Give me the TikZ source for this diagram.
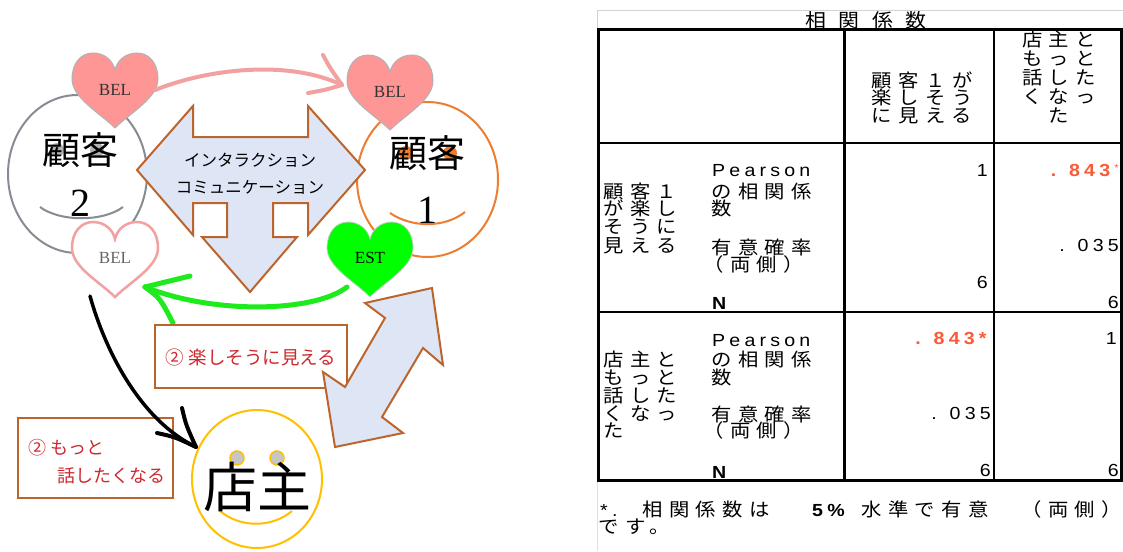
\documentclass[tikz,border=0pt]{standalone}
\usepackage{fontspec}
\setmainfont{Liberation Serif}
\newfontfamily\jp{Noto Sans CJK JP}
\newfontfamily\tabjp[FakeStretch=1.1,LetterSpace=35]{Noto Sans CJK JP}
\newfontfamily\tabtitle[FakeStretch=1.1,LetterSpace=65]{Noto Sans CJK JP}
\newfontfamily\tablat[FakeStretch=1.12,LetterSpace=24]{Liberation Sans}
\usetikzlibrary{shapes.geometric}

\definecolor{brownline}{RGB}{188,100,46}
\definecolor{arrowfill}{RGB}{222,230,245}
\definecolor{heartpink}{RGB}{255,150,150}
\definecolor{pinkline}{RGB}{242,160,160}
\definecolor{facegray}{RGB}{135,140,148}
\definecolor{faceorange}{RGB}{237,125,49}
\definecolor{facegold}{RGB}{255,192,0}
\definecolor{boxred}{RGB}{205,40,45}
\definecolor{brightgreen}{RGB}{0,255,0}
\definecolor{arrowgreen}{RGB}{30,235,30}
\definecolor{tabred}{RGB}{250,90,55}

\tikzset{
  heart/.pic={
    \path[pic actions] (0,75) .. controls (-15,60) and (-43,45) .. (-43,26)
      .. controls (-43,10) and (-34,0) .. (-22,0)
      .. controls (-10,0) and (-2,8) .. (0,17)
      .. controls (2,8) and (10,0) .. (22,0)
      .. controls (34,0) and (43,10) .. (43,26)
      .. controls (43,45) and (15,60) .. (0,75) -- cycle;
  },
  face/.style={ellipse, line width=2, inner sep=0},
  eye/.style={circle, inner sep=0, minimum size=14},
  bigjp/.style={font=\jp\fontsize{38}{38}\selectfont, inner sep=0},
  bignum/.style={font=\fontsize{40}{40}\selectfont, inner sep=0},
  hearttext/.style={font=\fontsize{17}{17}\selectfont, inner sep=0},
  bigarrow/.style={draw=brownline, fill=arrowfill, line width=2, line join=miter},
  notebox/.style={draw=brownline, fill=white, line width=2.5, inner sep=0},
  notetext/.style={font=\jp\fontsize{18}{18}\selectfont, text=boxred, inner sep=0},
  handarrow/.style={line cap=round, line join=round},
  tj/.style={font=\tabjp\fontsize{18.5}{18.5}\selectfont, inner sep=0, anchor=base west},
  tjc/.style={font=\tabjp\fontsize{18.5}{18.5}\selectfont, inner sep=0, anchor=base},
  tl/.style={font=\tablat\fontsize{17.5}{17.5}\selectfont, inner sep=0, anchor=base west},
  tlb/.style={font=\tablat\bfseries\fontsize{17.5}{17.5}\selectfont, inner sep=0, anchor=base west},
  tn/.style={font=\tablat\fontsize{17.5}{17.5}\selectfont, inner sep=0, anchor=base east},
  tabrule/.style={line width=1.5},
  tabframe/.style={line width=3},
}

\begin{document}
\begin{tikzpicture}[x=1pt, y=-1pt]
\useasboundingbox (0,0) rectangle (1123,551);
\fill[white] (0,0) rectangle (1123,551);

% ---------- faces ----------
\node[face, draw=facegray, minimum width=139, minimum height=158] (cust2) at (77.5,174) {};
\node[face, draw=faceorange, minimum width=141, minimum height=155] (cust1) at (427.5,179.5) {};
\node[face, draw=facegold, minimum width=130, minimum height=138] (owner) at (257,479) {};

\node[eye, fill=gray!60] (eye2l) at (57,150) {};
\node[eye, fill=gray!60] (eye2r) at (97,150) {};
\node[eye, fill=faceorange] (eye1l) at (406,153) {};
\node[eye, fill=faceorange] (eye1r) at (450,153) {};
\node[eye, fill=gray!45, draw=facegold, line width=1.5] (eye0l) at (237,458) {};
\node[eye, fill=gray!45, draw=facegold, line width=1.5] (eye0r) at (277,458) {};

\draw[facegray, line width=2] (40,207) .. controls (60,222) and (103,222) .. (123,207);
\draw[faceorange, line width=2] (390,213) .. controls (412,228) and (445,228) .. (465,212);
\draw[facegold, line width=2] (220,511) .. controls (240,528) and (272,528) .. (292,511);

\node[bigjp] (cust2name) at (80,150) {顧客};
\node[bignum] (cust2num) at (80,203) {2};
\node[bigjp] (cust1name) at (427,153) {顧客};
\node[bignum] (cust1num) at (427,210) {1};
\node[font=\jp\fontsize{54}{54}\selectfont, inner sep=0] (ownername) at (257,487) {店主};

% ---------- hearts ----------
\pic[fill=heartpink, draw=gray!60, line width=1] at (115,53) {heart};
\pic[fill=heartpink, draw=gray!60, line width=1] at (390,55) {heart};
\pic[fill=white, draw=pinkline, line width=2.5] at (115,222) {heart};
\pic[fill=brightgreen, draw=gray!40, line width=0.8] at (370,222) {heart};
\node[hearttext, text=black!80] (belA) at (115,90) {BEL};
\node[hearttext, text=black!80] (belB) at (390,92) {BEL};
\node[hearttext, text=black!60] (belC) at (115,258) {BEL};
\node[hearttext] (est) at (370,258) {EST};

% ---------- interaction arrow ----------
\draw[bigarrow] (137,170) -- (193,106) -- (193,137) -- (308,137) -- (308,106)
  -- (365,170) -- (308,235) -- (308,203) -- (273,203) -- (273,237) -- (297,237)
  -- (250,292) -- (202,237) -- (227,237) -- (227,203) -- (193,203) -- (193,235) -- cycle;
\node[font=\jp\fontsize{16.5}{16.5}\selectfont, inner sep=0] (inter1) at (250,160) {インタラクション};
\node[font=\jp\fontsize{16.5}{16.5}\selectfont, inner sep=0] (inter2) at (250,187) {コミュニケーション};

% ---------- hand-drawn connectors ----------
\coordinate (pinkStart) at (155,90);
\coordinate (pinkTip) at (342,85);
\draw[handarrow, pinkline, line width=4] (pinkStart) .. controls (210,68) and (290,60) .. (pinkTip);
\draw[handarrow, pinkline, line width=4] (323,55) .. controls (330,68) .. (pinkTip);
\draw[handarrow, pinkline, line width=4] (308,93) .. controls (325,90) .. (pinkTip);

\coordinate (greenStart) at (347,287);
\coordinate (greenTip) at (145,287);
\coordinate (greenBarbA) at (190,276);
\coordinate (greenBarbB) at (173,323);
\draw[handarrow, arrowgreen, line width=5] (greenStart) .. controls (315,312) and (215,315) .. (greenTip);
\draw[handarrow, arrowgreen, line width=5] (greenBarbA) -- (greenTip);
\draw[handarrow, arrowgreen, line width=5] (greenTip) .. controls (160,298) .. (greenBarbB);

% ---------- note boxes ----------
\node[notebox, minimum width=192, minimum height=63] (noteA) at (251,356.5) {};
\node[notetext, font=\jp\fontsize{18.5}{18.5}\selectfont] (noteAtext) at (251,357) {② 楽しそうに見える};
\node[notebox, minimum width=155, minimum height=80] (noteB) at (95.5,458) {};
\node[notetext, anchor=base west] (noteBtext1) at (28,454) {② もっと};
\node[notetext, anchor=base west] (noteBtext2) at (57,482) {話したくなる};

% ---------- two-way diagonal arrow ----------
\draw[bigarrow] (432,288) -- (443,365) -- (423,348) -- (382,417) -- (403,433)
  -- (335,447) -- (323,372) -- (345,387) -- (385,318) -- (365,303) -- cycle;

% ---------- black arrow ----------
\coordinate (blackStart) at (90,296);
\coordinate (blackTip) at (196,447);
\draw[handarrow, black, line width=3.5] (blackStart) .. controls (105,350) and (140,420) .. (blackTip);
\draw[handarrow, black, line width=4] (182,408) .. controls (186,425) .. (blackTip);
\draw[handarrow, black, line width=4] (157,433) .. controls (175,437) .. (blackTip);

% ---------- correlation table ----------
\draw[gray!35, line width=1] (597,30) -- (597,11) -- (1123,11);
\draw[gray!25, line width=1] (597,480) -- (597,551);
\node[font=\tabtitle\fontsize{19}{19}\selectfont, inner sep=0] (title) at (866,20) {相関係数};

\draw[tabrule] (598,143) -- (1121,143);
\draw[tabrule] (598,312) -- (1121,312);
\draw[tabrule] (994,30) -- (994,480);
\draw[tabframe] (844,30) -- (844,480);
\draw[tabframe] (598,30) rectangle (1121,480);

% header cells
\foreach \b/\t [count=\i] in {87/顧客１が, 104/楽しそう, 122/に見える}
  \node[tjc] (hA\i) at (922,\b) {\t};
\foreach \b/\t [count=\i] in {47/店主と, 65/もっと, 84/話した, 103/くなっ, 122/た}
  \node[tjc] (hB\i) at (1059,\b) {\t};

% row 1
\foreach \b/\t [count=\i] in {198/顧客１, 215/が楽し, 233/そうに, 252/見える}
  \node[tj] (rA\i) at (603,\b) {\t};
\node[tl] (rApear) at (712,176) {Pearson};
\foreach \b/\t [count=\i] in {198/の相関係, 215/数, 254/有意確率}
  \node[tj] (rAs\i) at (711,\b) {\t};
\node[tj] (rAs4) at (703,271) {（両側）};
\node[tlb] (rAn) at (712,309) {N};
\node[tn] (rAc1) at (988,176) {1};
\node[tn] (rAc2) at (988,288) {6};
\node[tn, text=tabred] (rAc3) at (1119,176) {\textbf{. 843}\raisebox{5pt}{\fontsize{10}{10}\selectfont *}};
\node[tn] (rAc4) at (1119,251) {. 035};
\node[tn] (rAc5) at (1119,308) {6};

% row 2
\foreach \b/\t [count=\i] in {366/店主と, 384/もっと, 402/話した, 420/くなっ, 437/た}
  \node[tj] (rB\i) at (603,\b) {\t};
\node[tl] (rBpear) at (712,346) {Pearson};
\foreach \b/\t [count=\i] in {366/の相関係, 384/数, 421/有意確率}
  \node[tj] (rBs\i) at (711,\b) {\t};
\node[tj] (rBs4) at (703,437) {（両側）};
\node[tlb] (rBn) at (712,478) {N};
\node[tn, text=tabred] (rBc1) at (991,344) {\textbf{. 843*}};
\node[tn] (rBc2) at (991,419) {. 035};
\node[tn] (rBc3) at (991,476) {6};
\node[tn] (rBc4) at (1117,344) {1};
\node[tn] (rBc5) at (1119,476) {6};

% footnote
\node[tl] (fnA) at (600,516) {*.};
\node[tj] (fnB) at (642,516) {相関係数は};
\node[tlb] (fnC) at (812,516) {5\%};
\node[tj] (fnD) at (861,516) {水準で有意};
\node[tj] (fnE) at (1021,516) {（両側）};
\node[tj] (fnF) at (598,533) {です。};
\end{tikzpicture}
\end{document}
